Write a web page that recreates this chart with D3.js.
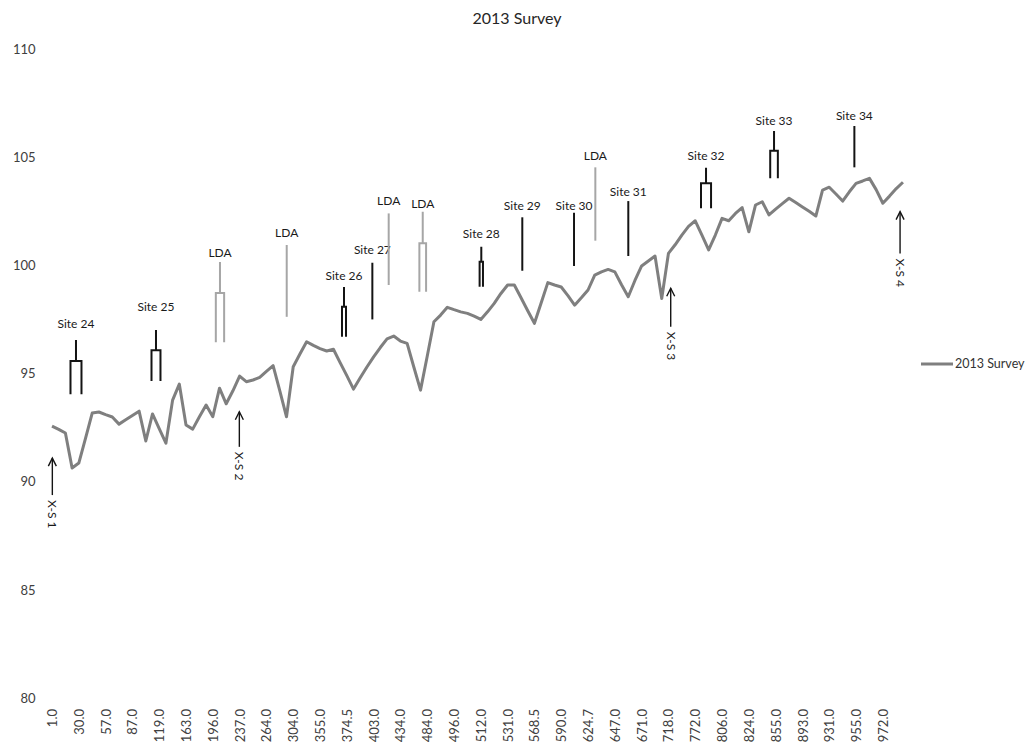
<!DOCTYPE html>
<html>
<head>
<meta charset="utf-8">
<script src="https://cdn.jsdelivr.net/npm/d3@7"></script>
<style>
  html, body { margin: 0; padding: 0; background: #ffffff; }
  svg { display: block; font-family: Lato, "Open Sans", sans-serif; }
</style>
</head>
<body>
<svg id="chart" width="1035" height="748"></svg>
<script>
// ---------------- data ----------------
const chartTitle = "2013 Survey";
const seriesName = "2013 Survey";

// tick labels (one every 4th category)
const tickLabels = ["1.0","30.0","57.0","87.0","119.0","163.0","196.0","237.0","264.0","304.0",
  "355.0","374.5","403.0","434.0","484.0","496.0","512.0","531.0","568.5","590.0",
  "624.7","647.0","671.0","718.0","772.0","806.0","824.0","855.0","893.0","931.0",
  "955.0","972.0"];
const labelEvery = 4;

// elevation values, one per category
const surveyValues = [
  92.57, 92.42, 92.25, 90.63, 90.86, 92.0, 93.17, 93.22, 93.1, 92.99,
  92.66, 92.86, 93.06, 93.26, 91.88, 93.13, 92.45, 91.78, 93.77, 94.51,
  92.62, 92.43, 93.0, 93.54, 93.0, 94.32, 93.6, 94.2, 94.88, 94.62,
  94.7, 94.82, 95.1, 95.36, 94.2, 93.0, 95.31, 95.9, 96.47, 96.3,
  96.15, 96.04, 96.12, 95.5, 94.9, 94.28, 94.8, 95.3, 95.77, 96.2,
  96.6, 96.73, 96.5, 96.39, 95.3, 94.23, 95.8, 97.39, 97.7, 98.06,
  97.95, 97.85, 97.78, 97.65, 97.5, 97.85, 98.24, 98.7, 99.09, 99.09,
  98.5, 97.9, 97.32, 98.26, 99.2, 99.09, 99.0, 98.6, 98.16, 98.5,
  98.86, 99.55, 99.7, 99.81, 99.7, 99.1, 98.55, 99.3, 99.97, 100.2,
  100.43, 98.47, 100.55, 100.95, 101.4, 101.8, 102.06, 101.4, 100.71, 101.4,
  102.17, 102.06, 102.4, 102.67, 101.55, 102.79, 102.94, 102.33, 102.6, 102.85,
  103.1, 102.9, 102.7, 102.5, 102.28, 103.48, 103.61, 103.3, 102.97, 103.4,
  103.79, 103.9, 104.02, 103.5, 102.87, 103.2, 103.55, 103.84
];

const yTicks = [80, 85, 90, 95, 100, 105, 110];

// site annotations in data units: category position, label, top / split / bottom elevation
// kind: "fork" (stem splitting into two legs) or "line"
const siteLabels  = ["Site 24","Site 25","LDA","LDA","Site 26","Site 27","LDA","LDA","Site 28","Site 29","Site 30","LDA","Site 31","Site 32","Site 33","Site 34"];
const siteCats    = [3.58, 15.52, 25.07, 35.03, 43.58, 47.81, 50.25, 55.33, 64.07, 70.19, 77.91, 81.09, 86.01, 97.61, 107.76, 119.75];
const siteLabelY  = [97.28, 98.08, 100.56, 101.49, 99.53, 100.7, 103.0, 102.85, 101.46, 102.73, 102.73, 105.05, 103.38, 105.05, 106.68, 106.9];
const siteTop     = [96.55, 97.01, 100.15, 100.94, 99.0, 100.12, 102.4, 102.48, 100.86, 102.22, 102.43, 104.53, 102.97, 104.51, 106.21, 106.44];
const siteSplit   = [95.58, 96.08, 98.72, null, 98.09, null, null, 101.02, 100.17, null, null, null, null, 103.79, 105.30, null];
const siteBottom  = [94.04, 94.65, 96.45, 97.62, 96.70, 97.5, 99.09, 98.78, 99.01, 99.75, 99.97, 101.14, 100.43, 102.64, 104.02, 104.53];
const siteSpread  = [0.82, 0.67, 0.62, 0, 0.3, 0, 0, 0.5, 0.25, 0, 0, 0, 0, 0.75, 0.57, 0];
const siteIsLDA   = [false,false,true,true,false,false,true,true,false,false,false,true,false,false,false,false];

// cross-section arrows
const xsLabels = ["X-S 1","X-S 2","X-S 3","X-S 4"];
const xsCats   = [0.05, 27.96, 92.34, 126.57];
const xsHead   = [91.09, 93.23, 98.94, 102.48];
const xsTail   = [89.38, 91.61, 97.16, 100.55];

// ---------------- layout ----------------
const svg = d3.select("#chart");
const plot = { left: 48.65, right: 906.3, top: 49, bottom: 698 };
const n = surveyValues.length;

const x = d3.scaleLinear().domain([-0.5, n - 0.5]).range([plot.left, plot.right]);
const y = d3.scaleLinear().domain([80, 110]).range([plot.bottom, plot.top]);

// title
svg.append("text")
  .attr("x", 517).attr("y", 18).attr("dy", "0.35em")
  .attr("text-anchor", "middle")
  .style("font-size", "16px").style("fill", "#262626")
  .text(chartTitle);

// y axis
const yAxis = svg.append("g")
  .attr("transform", `translate(${plot.left},0)`)
  .call(d3.axisLeft(y).tickValues(yTicks).tickSize(0).tickPadding(13).tickFormat(d3.format("d")));
yAxis.select(".domain").remove();
yAxis.selectAll("text").style("font-size", "13px").style("fill", "#404040").style("font-family", "Lato, sans-serif");

// x axis
const tickIdx = d3.range(0, n, labelEvery).filter((d, i) => i < tickLabels.length);
const xAxis = svg.append("g")
  .attr("transform", `translate(0,${plot.bottom})`)
  .call(d3.axisBottom(x).tickValues(tickIdx).tickSize(0).tickFormat(d => tickLabels[d / labelEvery]));
xAxis.select(".domain").remove();
xAxis.selectAll("text")
  .attr("transform", "rotate(-90)")
  .attr("x", -11).attr("y", 0).attr("dy", "0.35em")
  .style("text-anchor", "end")
  .style("font-size", "13px").style("fill", "#404040").style("font-family", "Lato, sans-serif");

// series line
const line = d3.line().x((d, i) => x(i)).y(d => y(d));
svg.append("path")
  .datum(surveyValues)
  .attr("d", line)
  .attr("fill", "none")
  .attr("stroke", "#7f7f7f")
  .attr("stroke-width", 3)
  .attr("stroke-linejoin", "round");

// site annotations
const ann = svg.append("g");
siteLabels.forEach((lab, k) => {
  const cx = x(siteCats[k]);
  const col = siteIsLDA[k] ? "#a6a6a6" : "#141414";
  const g = ann.append("g").attr("stroke", col).attr("stroke-width", 2).attr("fill", "none");
  if (siteSplit[k] === null) {
    g.append("line").attr("x1", cx).attr("x2", cx).attr("y1", y(siteTop[k])).attr("y2", y(siteBottom[k]));
  } else {
    const dx = x(siteCats[k] + siteSpread[k]) - cx;
    g.append("path").attr("d",
      `M${cx},${y(siteTop[k])}V${y(siteSplit[k])}` +
      `M${cx - dx},${y(siteBottom[k])}V${y(siteSplit[k])}H${cx + dx}V${y(siteBottom[k])}`);
  }
  ann.append("text")
    .attr("x", cx).attr("y", y(siteLabelY[k])).attr("dy", "0.35em")
    .attr("text-anchor", "middle")
    .style("font-size", "12px").style("fill", "#1a1a1a")
    .text(lab);
});

// cross-section arrows
xsLabels.forEach((lab, k) => {
  const cx = x(xsCats[k]);
  const hy = y(xsHead[k]), ty = y(xsTail[k]);
  const g = svg.append("g").attr("stroke", "#141414").attr("stroke-width", 1.4).attr("fill", "none");
  g.append("line").attr("x1", cx).attr("x2", cx).attr("y1", hy).attr("y2", ty);
  g.append("path").attr("d", `M${cx - 4},${hy + 8}L${cx},${hy}L${cx + 4},${hy + 8}`);
  svg.append("text")
    .attr("transform", `translate(${cx},${ty + 5}) rotate(90)`)
    .attr("dy", "0.35em")
    .attr("text-anchor", "start")
    .style("font-size", "12px").style("fill", "#1a1a1a")
    .text(lab);
});

// legend
const lg = svg.append("g").attr("transform", "translate(921,364)");
lg.append("line").attr("x1", 0).attr("x2", 32).attr("y1", 0).attr("y2", 0)
  .attr("stroke", "#7f7f7f").attr("stroke-width", 3);
lg.append("text").attr("x", 34).attr("y", 0).attr("dy", "0.35em")
  .style("font-size", "12.5px").style("fill", "#333333")
  .text(seriesName);
</script>
</body>
</html>
